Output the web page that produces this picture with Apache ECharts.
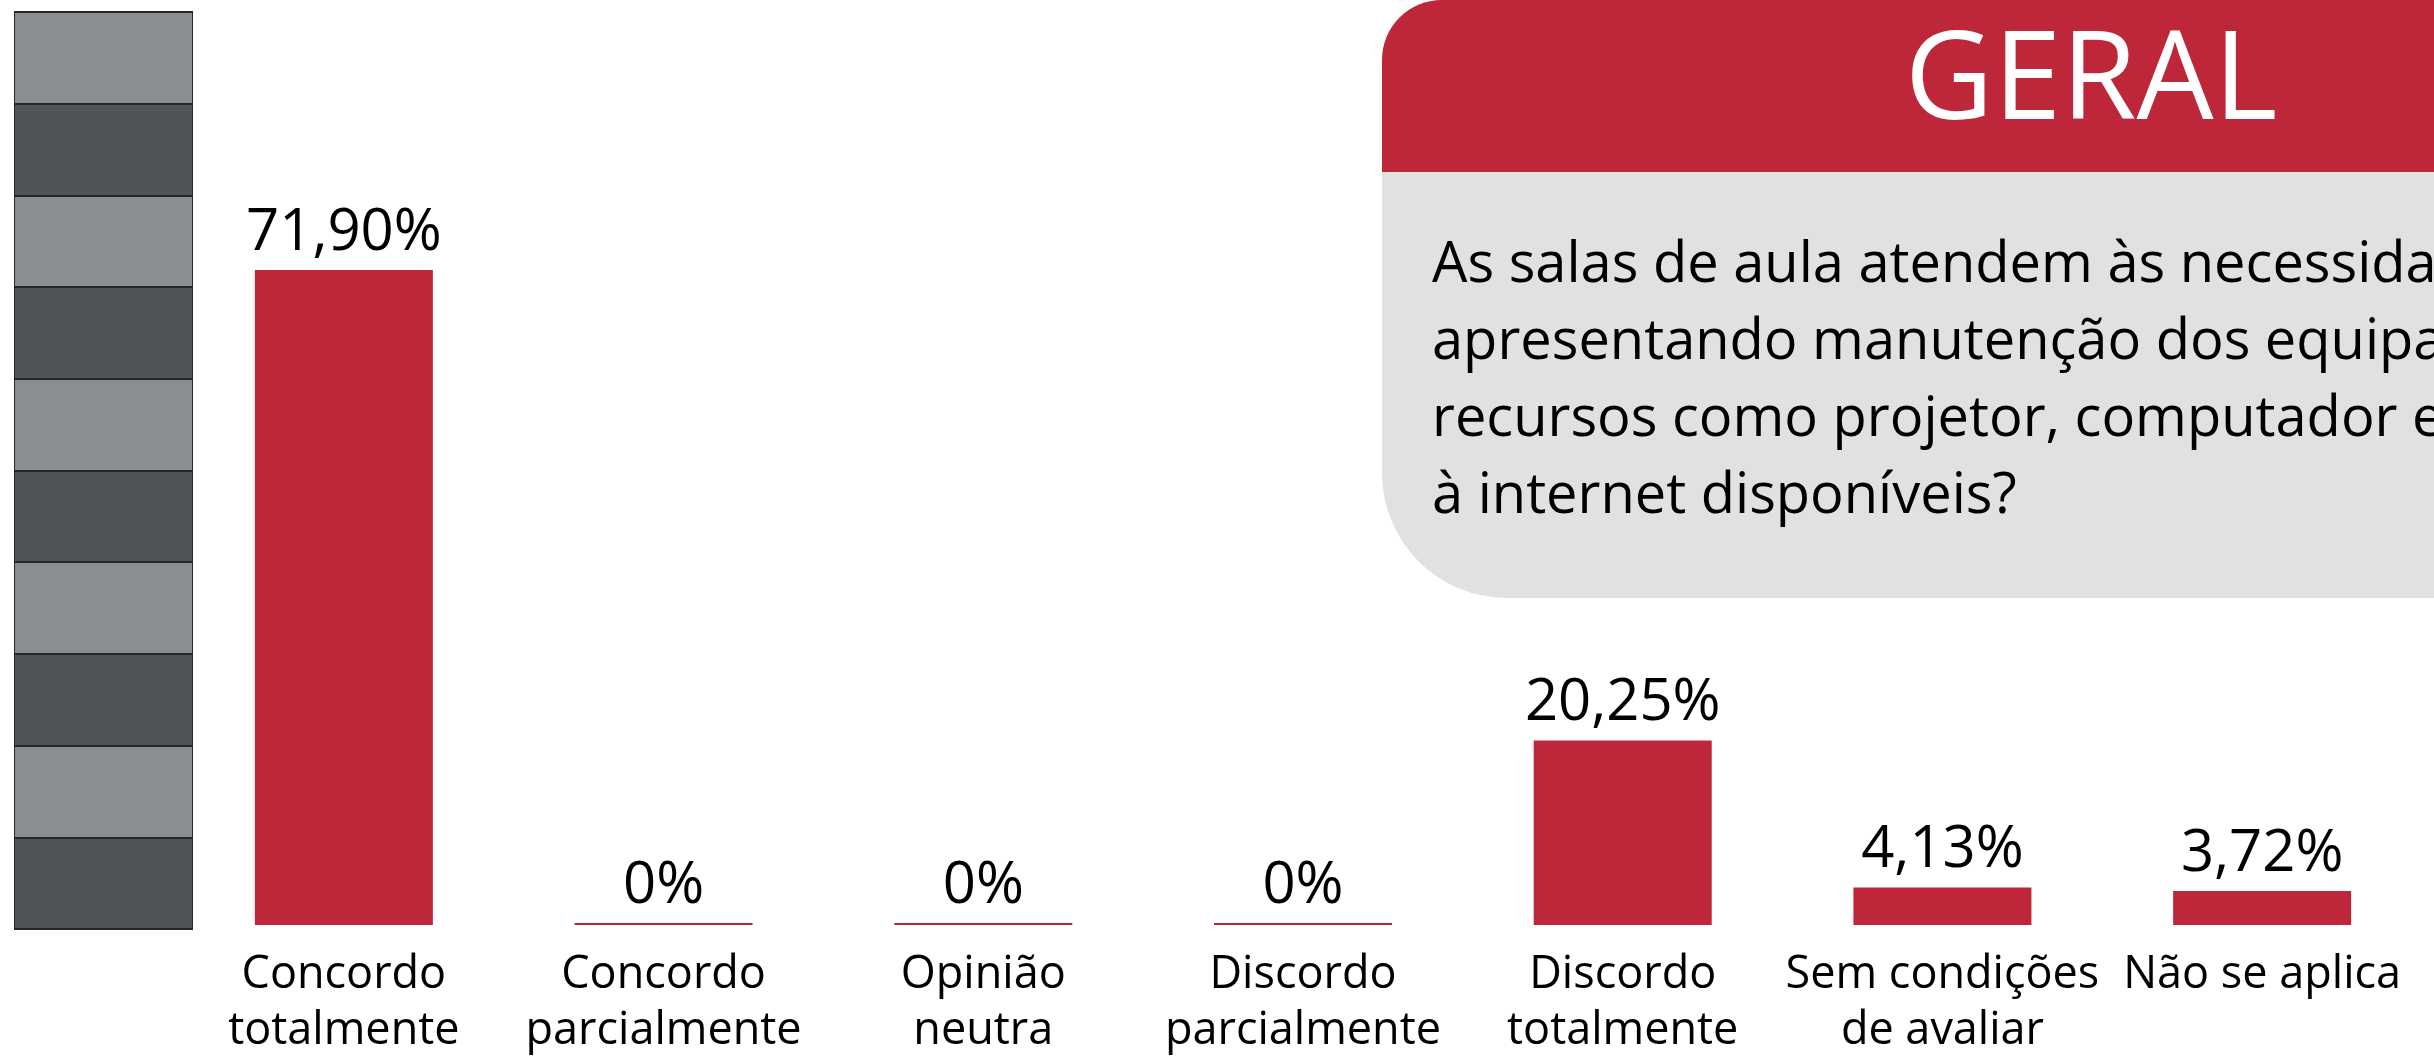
<!DOCTYPE html>
<html>
<head>
<meta charset="utf-8">
<script src="https://cdn.jsdelivr.net/npm/echarts@6/dist/echarts.min.js"></script>
<style>
  html, body { margin: 0; padding: 0; background: #ffffff; }
  #chart { width: 2434px; height: 1059px; }
</style>
</head>
<body>
<div id="chart"></div>
<script>
// ---- data ----
const categories = [
  'Concordo\ntotalmente',
  'Concordo\nparcialmente',
  'Opinião\nneutra',
  'Discordo\nparcialmente',
  'Discordo\ntotalmente',
  'Sem condições\nde avaliar',
  'Não se aplica'
];
const percentValues = [71.90, 0, 0, 0, 20.25, 4.13, 3.72];
const axisMax = 100;
const axisStep = 10;
const panelTitle = 'GERAL';
const panelQuestion = 'As salas de aula atendem às necessidades,\napresentando manutenção dos equipamentos e\nrecursos como projetor, computador e acesso\nà internet disponíveis?';

// ---- styles ----
const RED = '#be2639';
const FONT = '"Open Sans", "Noto Sans", sans-serif';

function fmtPct(v) {
  return v === 0 ? '0%' : v.toFixed(2).replace('.', ',') + '%';
}

const chart = echarts.init(document.getElementById('chart'), null, { renderer: 'canvas' });

chart.setOption({
  backgroundColor: '#ffffff',
  animation: false,
  textStyle: { fontFamily: FONT },
  grid: [
    { left: 184, width: 2238, top: 14, bottom: 132, containLabel: false },
    { left: 15, width: 177, top: 12, bottom: 130, show: true, borderColor: '#262626', borderWidth: 2, backgroundColor: 'transparent' }
  ],
  xAxis: [
    {
      type: 'category', gridIndex: 0, data: categories,
      axisLine: { show: false }, axisTick: { show: false },
      axisLabel: {
        interval: 0, margin: 22, color: '#000000', fontSize: 45, lineHeight: 56,
        fontFamily: FONT, verticalAlign: 'top'
      }
    },
    {
      type: 'category', gridIndex: 1, data: [''],
      axisLine: { show: false }, axisTick: { show: false }, axisLabel: { show: false }
    }
  ],
  yAxis: [
    {
      type: 'value', gridIndex: 0, min: 0, max: axisMax, interval: axisStep,
      show: false
    },
    {
      type: 'value', gridIndex: 1, min: 0, max: axisMax, interval: axisStep,
      axisLine: { show: false }, axisTick: { show: false }, axisLabel: { show: false },
      splitLine: { show: true, lineStyle: { color: '#262626', width: 2 } },
      splitArea: { show: true, areaStyle: { color: ['#505457', '#8a8d91'] } }
    }
  ],
  series: [
    {
      type: 'bar', xAxisIndex: 0, yAxisIndex: 0,
      data: percentValues,
      barWidth: 178,
      barMinHeight: 2,
      itemStyle: { color: RED },
      label: {
        show: true, position: 'top', distance: 8,
        color: '#000000', fontSize: 58, fontFamily: FONT,
        formatter: p => fmtPct(p.value)
      }
    }
  ],
  graphic: [
    {
      type: 'rect', z: 1,
      shape: { x: 1382, y: 0, width: 1200, height: 598, r: [60, 0, 0, 125] },
      style: { fill: '#e0e1e0' }
    },
    {
      type: 'rect', z: 2,
      shape: { x: 1382, y: 0, width: 1200, height: 172, r: [60, 0, 0, 0] },
      style: { fill: RED }
    },
    {
      type: 'text', z: 3, x: 2091, y: 84,
      style: {
        text: panelTitle, fill: '#ffffff', font: '122px ' + FONT,
        textAlign: 'center', textVerticalAlign: 'middle'
      }
    },
    {
      type: 'text', z: 3, x: 1432, y: 228,
      style: {
        text: panelQuestion, fill: '#000000', font: '56px ' + FONT,
        lineHeight: 77, textAlign: 'left', textVerticalAlign: 'top'
      }
    }
  ]
});
</script>
</body>
</html>
